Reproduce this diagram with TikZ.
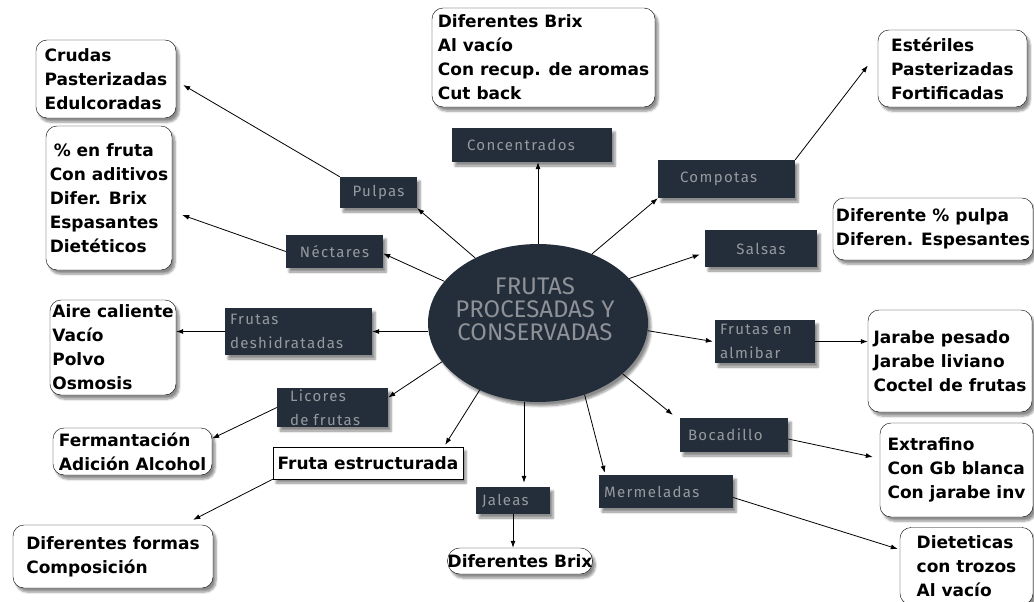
\documentclass[tikz,border=0pt]{standalone}
\usepackage{fontspec}
\setmainfont{DejaVu Sans}
\newfontfamily\catfont[LetterSpace=9]{Fira Sans}
\newfontfamily\hubfont{Fira Sans}
\usepackage{tikz}
\usetikzlibrary{arrows.meta, shapes.geometric, shadows.blur}

\definecolor{pizarra}{HTML}{242E3A}
\definecolor{grisclaro}{HTML}{969A9F}
\definecolor{grishub}{HTML}{8E9298}

\tikzset{
  sombra/.style={blur shadow={shadow xshift=3pt, shadow yshift=-4pt, shadow blur steps=6, shadow opacity=45}},
  categoria/.style={fill=pizarra, text=grisclaro, inner sep=0pt, align=left, sombra,
    font=\catfont\fontsize{15}{24}\selectfont},
  lista/.style={draw, fill=white, rounded corners=11pt, inner sep=0pt, align=left, sombra,
    font=\bfseries\fontsize{17}{24}\selectfont},
  flecha/.style={line width=0.8pt, -{Latex[length=7pt,width=5pt]}}
}

\begin{document}
\begin{tikzpicture}[x=1pt, y=-1pt]
\useasboundingbox (0,0) rectangle (1034,602);

% nodo central
\node[ellipse, fill=pizarra, minimum width=220pt, minimum height=158pt, inner sep=0pt, sombra] (frutas) at (538,323) {};
\node[text=grishub, inner sep=0pt, align=center, font=\hubfont\fontsize{24}{23}\selectfont] (titulo) at (535,309)
      {FRUTAS\\PROCESADAS Y\\CONSERVADAS};

% categorias
\node[categoria, minimum width=160pt, minimum height=34pt, text width=130pt] (conc) at (532,145) {Concentrados};
\node[categoria, minimum width=77pt, minimum height=31pt] (pulpas) at (378.5,192.5) {Pulpas};
\node[categoria, minimum width=97pt, minimum height=33pt] (nectares) at (334.5,251.5) {Néctares};
\node[categoria, minimum width=137pt, minimum height=38pt, text width=93pt] (compotas) at (726.5,179) {Compotas};
\node[categoria, minimum width=112pt, minimum height=37pt] (salsas) at (761,248.5) {Salsas};
\node[categoria, minimum width=147pt, minimum height=47pt, text width=137pt] (deshid) at (298.5,331.5) {Frutas\\deshidratadas};
\node[categoria, minimum width=111pt, minimum height=39pt, text width=85pt] (licores) at (332.5,407.5) {Licores\\de frutas};
\node[categoria, minimum width=100pt, minimum height=43pt, text width=90pt] (almibar) at (765,341.5) {Frutas en\\almibar};
\node[categoria, minimum width=108pt, minimum height=34pt, text width=92pt] (bocad) at (734,435) {Bocadillo};
\node[categoria, minimum width=134pt, minimum height=33pt, text width=124pt] (merm) at (666,491.5) {Mermeladas};
\node[categoria, minimum width=74pt, minimum height=27pt, text width=62pt] (jaleas) at (513,500.5) {Jaleas};
\node[draw, fill=white, sombra, minimum width=190pt, minimum height=32pt, inner sep=0pt,
      font=\bfseries\fontsize{17}{24}\selectfont] (estruct) at (368,463) {Fruta estructurada};

% listas
\node[lista, minimum width=140pt, minimum height=78pt] (lpulpas) at (106,79) {Crudas\\Pasterizadas\\Edulcoradas};
\node[lista, minimum width=126pt, minimum height=144pt] (lnectares) at (109,198)
  {\hspace{4pt}\% en fruta\\Con aditivos\\Difer. Brix\\Espasantes\\Dietéticos};
\node[lista, minimum width=223pt, minimum height=99pt] (lconc) at (543.5,57.5)
  {Diferentes Brix\\Al vacío\\Con recup. de aromas\\Cut back};
\node[lista, minimum width=149pt, minimum height=77pt] (lcompotas) at (952.5,68.5) {Estériles\\Pasterizadas\\Fortificadas};
\node[lista, minimum width=200pt, minimum height=62pt] (lsalsas) at (933,229) {Diferente \% pulpa\\Diferen. Espesantes};
\node[lista, minimum width=126pt, minimum height=95pt] (ldeshid) at (113,347.5) {Aire caliente\\Vacío\\Polvo\\Osmosis};
\node[lista, minimum width=159pt, minimum height=47pt] (llicores) at (132.5,451.5) {Fermantación\\Adición Alcohol};
\node[lista, minimum width=200pt, minimum height=63pt] (lestruct) at (113,556.5) {Diferentes formas\\Composición};
\node[lista, minimum width=144pt, minimum height=26pt, rounded corners=12pt] (ljaleas) at (520,561) {Diferentes Brix};
\node[lista, minimum width=164pt, minimum height=102pt] (lalmibar) at (950,361) {Jarabe pesado\\Jarabe liviano\\Coctel de frutas};
\node[lista, minimum width=153pt, minimum height=94pt] (lbocad) at (956.5,470) {Extrafino\\Con Gb blanca\\Con jarabe inv};
\node[lista, minimum width=133pt, minimum height=77pt] (lmerm) at (966.5,566) {Dieteticas\\con trozos\\Al vacío};

% conectores
\draw
(frutas.134) edge[flecha] (pulpas.south east)
(pulpas.north west) edge[flecha] ([xshift=7pt,yshift=-6pt]lpulpas.east)
(frutas.north) edge[flecha] (frutas.north |- conc.south)
(frutas.52) edge[flecha] (compotas.south west)
(compotas.north east) edge[flecha] ([xshift=-10pt,yshift=3pt]lcompotas.west)
(frutas.156) edge[flecha] ([yshift=-2pt]nectares.east)
(nectares.west) edge[flecha] ([xshift=10pt,yshift=-17pt]lnectares.east)
(frutas.26) edge[flecha] ([xshift=-5pt,yshift=-6pt]salsas.west)
(frutas.west |- deshid.east) edge[flecha] (deshid.east)
(deshid.west) edge[flecha] (deshid.west -| ldeshid.east)
(frutas.202) edge[flecha] ([yshift=10pt]licores.east)
(licores.west) edge[flecha] ([yshift=13pt]llicores.east)
(frutas.229) edge[flecha] ([xshift=-18pt,yshift=2pt]estruct.north east)
(estruct.south west) edge[flecha] ([xshift=-20pt,yshift=5pt]lestruct.north east)
([xshift=-14pt]frutas.south) edge[flecha] ([xshift=-14pt,yshift=4pt]frutas.south |- jaleas.north)
(jaleas.south) edge[flecha] (jaleas.south |- ljaleas.north)
(frutas.303) edge[flecha] ([xshift=6pt,yshift=2pt]merm.north west)
([yshift=-6pt]merm.east) edge[flecha] ([xshift=-2pt,yshift=17pt]lmerm.west)
(frutas.329) edge[flecha] ([xshift=-7pt,yshift=3pt]bocad.north west)
([yshift=-4pt]bocad.east) edge[flecha] ([xshift=-7pt,yshift=13pt]lbocad.west)
(frutas.-4) edge[flecha] ([xshift=-2pt]almibar.west)
(almibar.east) edge[flecha] (almibar.east -| lalmibar.west);
\end{tikzpicture}
\end{document}
